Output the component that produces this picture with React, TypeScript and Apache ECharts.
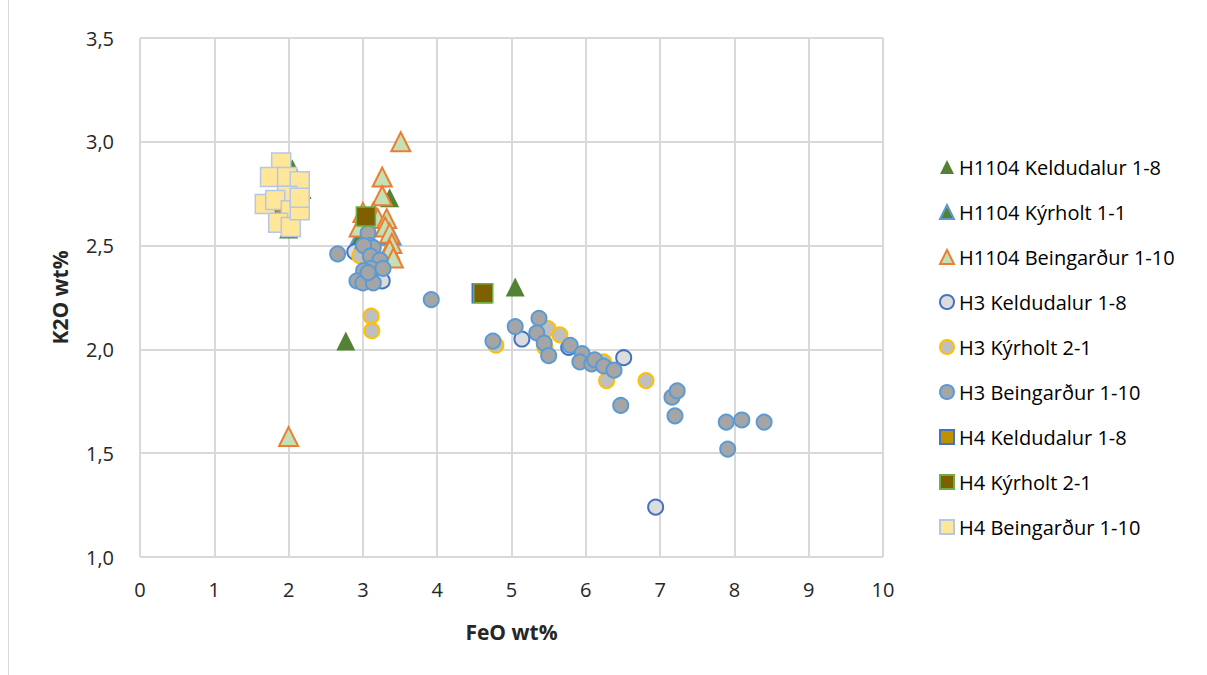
import React, { useEffect, useRef } from "react";
import * as echarts from "echarts";

// [FeO wt%, K2O wt%]
const h1104Keldudalur: number[][] = [
  [2.77, 2.04], [5.05, 2.3], [3.36, 2.73], [1.95, 2.63], [2.0, 2.58],
  [2.18, 2.77], [2.05, 2.87], [3.3, 2.6],
];
const h1104Kyrholt: number[][] = [
  [1.8, 2.85], [3.38, 2.55], [2.95, 2.54],
];
const h1104Beingardur: number[][] = [
  [3.51, 3.0], [2.0, 1.58], [3.26, 2.83], [3.26, 2.74], [3.0, 2.66],
  [3.14, 2.66], [3.2, 2.63], [3.32, 2.63], [3.3, 2.59], [3.36, 2.56],
  [3.39, 2.51], [3.36, 2.48], [3.41, 2.44], [3.02, 2.62], [2.95, 2.59],
];
const h3Keldudalur: number[][] = [
  [5.14, 2.05], [6.51, 1.96], [6.94, 1.24], [2.89, 2.47], [3.26, 2.33],
  [5.77, 2.01], [3.0, 2.48], [3.2, 2.4],
];
const h3Kyrholt: number[][] = [
  [3.11, 2.16], [3.12, 2.09], [4.79, 2.02], [5.49, 2.1], [5.65, 2.07],
  [5.45, 2.01], [6.24, 1.94], [6.28, 1.85], [6.81, 1.85], [2.96, 2.45],
];
const h3Beingardur: number[][] = [
  [2.66, 2.46], [3.92, 2.24], [4.75, 2.04], [5.05, 2.11], [5.37, 2.15],
  [5.34, 2.08], [5.44, 2.03], [5.5, 1.97], [5.79, 2.02], [5.95, 1.98],
  [5.92, 1.94], [6.08, 1.93], [6.12, 1.95], [6.24, 1.92], [6.38, 1.9],
  [6.47, 1.73], [7.16, 1.77], [7.23, 1.8], [7.2, 1.68], [7.89, 1.65],
  [8.1, 1.66], [8.4, 1.65], [7.91, 1.52], [3.07, 2.56], [3.1, 2.5],
  [3.14, 2.49], [3.01, 2.5], [3.1, 2.45], [3.23, 2.43], [3.11, 2.39],
  [3.27, 2.39], [3.01, 2.38], [2.92, 2.33], [3.0, 2.32], [3.14, 2.32],
  [3.07, 2.37],
];
const h4Keldudalur: number[][] = [
  [2.0, 2.62], [1.95, 2.7], [2.1, 2.76], [4.6, 2.27],
];
const h4Kyrholt: number[][] = [
  [3.04, 2.64], [4.62, 2.27],
];
const h4Beingardur: number[][] = [
  [1.9, 2.9], [1.75, 2.83], [1.98, 2.83], [2.15, 2.81], [1.98, 2.74],
  [1.68, 2.7], [1.82, 2.72], [2.03, 2.67], [1.86, 2.61], [2.03, 2.59],
  [2.15, 2.67], [2.15, 2.73],
];

const xTicks = { min: 0, max: 10, interval: 1 };
const yTicks = { min: 1, max: 3.5, interval: 0.5 };

const FONT = "'Open Sans', 'Liberation Sans', sans-serif";
const TXT = "#262626";

export default function App() {
  const ref = useRef<HTMLDivElement>(null);
  useEffect(() => {
    if (!ref.current) return;
    const chart = echarts.init(ref.current, null, { renderer: "svg" });
    const mk = (
      name: string,
      data: number[][],
      symbol: string,
      size: number,
      fill: string,
      border: string | null,
      bw = 2
    ) => ({
      name,
      type: "scatter",
      data,
      symbol,
      symbolSize: size,
      itemStyle: border
        ? { color: fill, borderColor: border, borderWidth: bw, opacity: 1 }
        : { color: fill, borderWidth: 0, opacity: 1 },
      emphasis: { disabled: true },
    });
    const tri = "triangle";
    chart.setOption({
      animation: false,
      backgroundColor: "#ffffff",
      grid: { left: 140, right: 324, top: 38, bottom: 118 },
      xAxis: {
        type: "value",
        min: xTicks.min,
        max: xTicks.max,
        interval: xTicks.interval,
        name: "FeO wt%",
        nameLocation: "middle",
        nameGap: 64,
        nameTextStyle: { fontFamily: FONT, fontSize: 21, fontWeight: "bold", color: TXT },
        axisLine: { show: false },
        axisTick: { show: false },
        axisLabel: { fontFamily: FONT, fontSize: 20, color: TXT, margin: 22 },
        splitLine: { show: true, lineStyle: { color: "#d9d9d9", width: 2 } },
      },
      yAxis: {
        type: "value",
        min: yTicks.min,
        max: yTicks.max,
        interval: yTicks.interval,
        name: "K2O wt%",
        nameLocation: "middle",
        nameGap: 70,
        nameTextStyle: { fontFamily: FONT, fontSize: 21, fontWeight: "bold", color: TXT },
        axisLine: { show: false },
        axisTick: { show: false },
        axisLabel: {
          fontFamily: FONT,
          fontSize: 20,
          color: TXT,
          margin: 26,
          formatter: (v: number) => v.toFixed(1).replace(".", ","),
        },
        splitLine: { show: true, lineStyle: { color: "#d9d9d9", width: 2 } },
      },
      legend: {
        orient: "vertical",
        left: 934,
        top: 152,
        itemWidth: 14,
        itemHeight: 14,
        itemGap: 25,
        textStyle: { fontFamily: FONT, fontSize: 20, color: "#000000" },
        data: [
          "H1104 Keldudalur 1-8",
          "H1104 Kýrholt 1-1",
          "H1104 Beingarður 1-10",
          "H3 Keldudalur 1-8",
          "H3 Kýrholt 2-1",
          "H3 Beingarður 1-10",
          "H4 Keldudalur 1-8",
          "H4 Kýrholt 2-1",
          "H4 Beingarður 1-10",
        ],
      },
      graphic: [
        {
          type: "line",
          shape: { x1: 8.5, y1: 0, x2: 8.5, y2: 675 },
          style: { stroke: "#d9d9d9", lineWidth: 1 },
        },
      ],
      series: [
        mk("H1104 Keldudalur 1-8", h1104Keldudalur, tri, 19, "#548235", null),
        mk("H1104 Kýrholt 1-1", h1104Kyrholt, tri, 19, "#548235", "#5b9bd5"),
        mk("H1104 Beingarður 1-10", h1104Beingardur, tri, 19, "#c5e0b4", "#ed7d31"),
        mk("H3 Keldudalur 1-8", h3Keldudalur, "circle", 15, "#dcdcdc", "#4472c4"),
        mk("H3 Kýrholt 2-1", h3Kyrholt, "circle", 15, "#bfbfbf", "#ffc000"),
        mk("H3 Beingarður 1-10", h3Beingardur, "circle", 15, "#a5a5a5", "#5b9bd5"),
        mk("H4 Keldudalur 1-8", h4Keldudalur, "rect", 19, "#bf9000", "#4472c4", 1.5),
        mk("H4 Kýrholt 2-1", h4Kyrholt, "rect", 19, "#7f6000", "#70ad47", 1.5),
        mk("H4 Beingarður 1-10", h4Beingardur, "rect", 19, "#ffe699", "#b4c7e7", 1.5),
      ],
    });
    return () => chart.dispose();
  }, []);
  return (
    <div
      ref={ref}
      style={{ position: "absolute", left: 0, top: 0, width: 1207, height: 675, background: "#fff" }}
    />
  );
}
